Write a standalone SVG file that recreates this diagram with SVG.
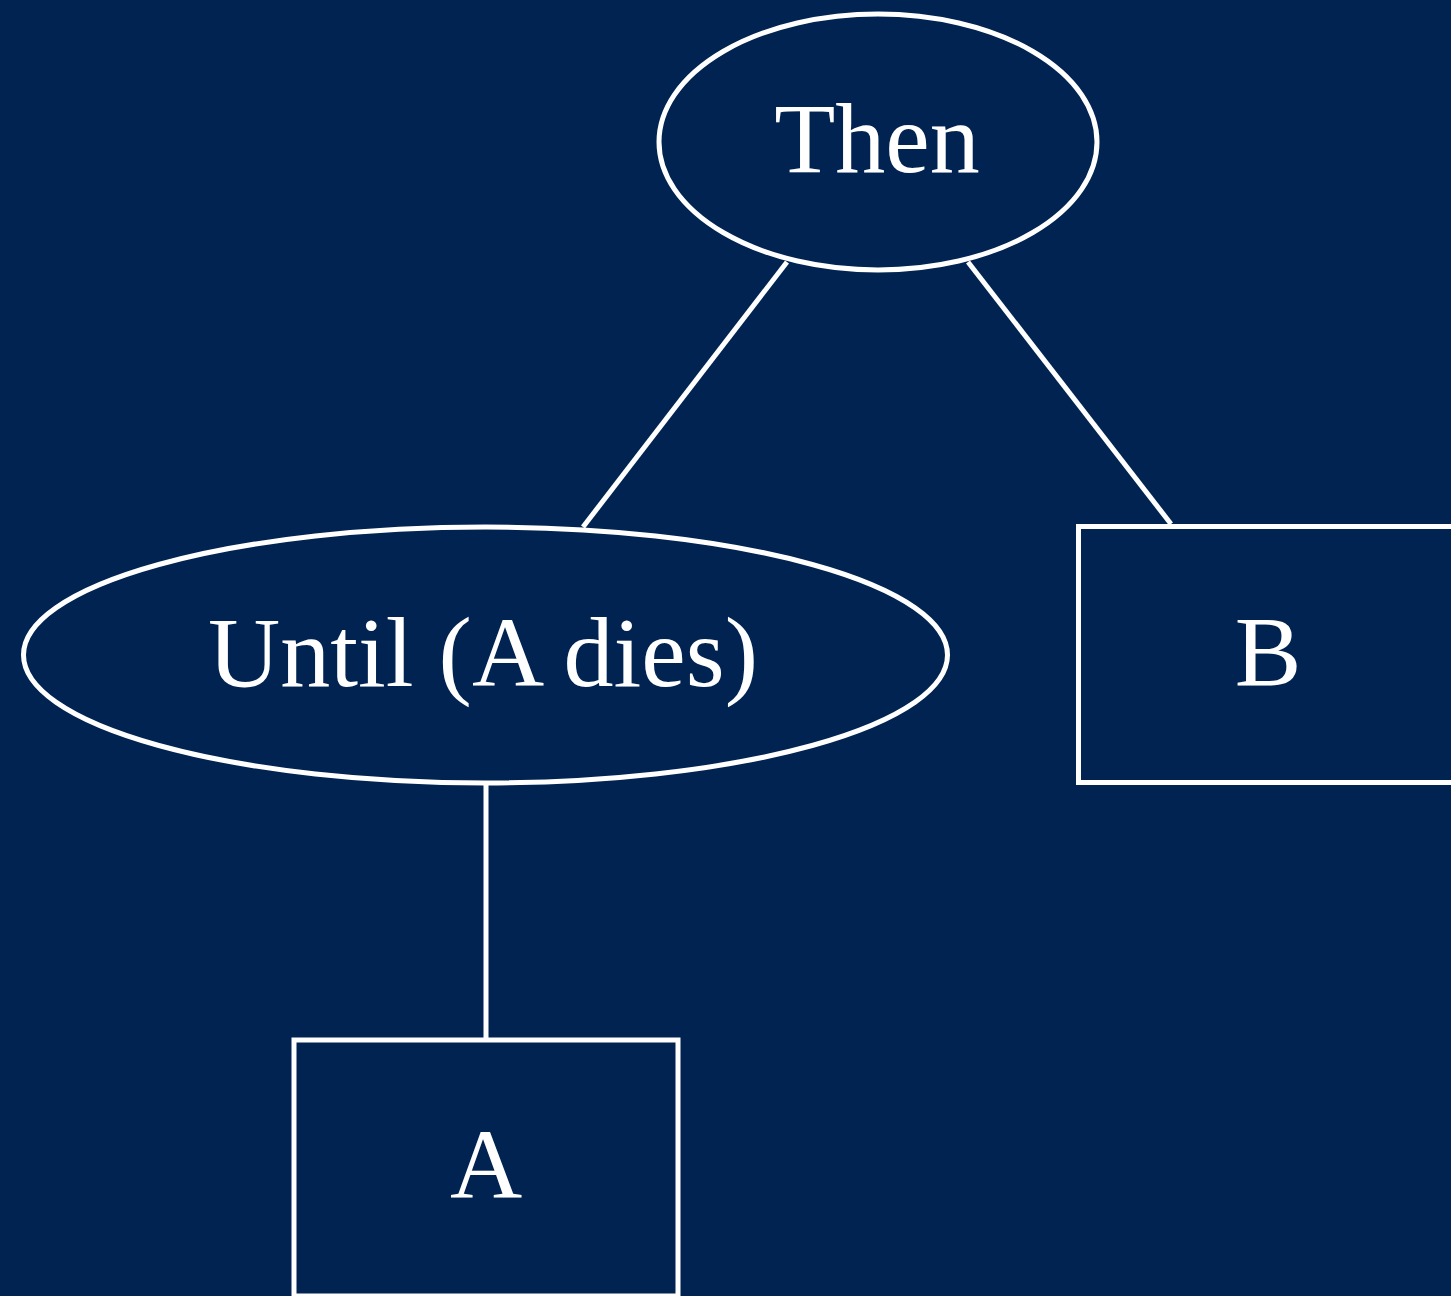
<svg xmlns="http://www.w3.org/2000/svg" width="1451" height="1296" viewBox="0 0 1451 1296">
<style>
.shape{fill:#002352;stroke:#ffffff;stroke-width:5}
.edge{stroke:#ffffff;stroke-width:5;fill:none}
.lbl{fill:#ffffff;font-family:"Liberation Serif","Times New Roman",serif;font-size:100px;text-anchor:middle}
</style>
<rect x="0" y="0" width="1451" height="1296" fill="#002352"/>
<g id="connectors">
<line class="edge" x1="787" y1="262" x2="583" y2="527"/>
<line class="edge" x1="968" y1="262" x2="1171" y2="524"/>
<line class="edge" x1="486" y1="783" x2="486" y2="1040"/>
</g>
<g id="node-then">
<ellipse class="shape" cx="878" cy="142" rx="219" ry="128"/>
<text class="lbl" x="877" y="172">Then</text>
</g>
<g id="node-until">
<ellipse class="shape" cx="485.5" cy="655" rx="462" ry="128"/>
<text class="lbl" x="483" y="686">Until (A dies)</text>
</g>
<g id="node-b">
<rect class="shape" x="1078.5" y="526.5" width="384" height="256"/>
<text class="lbl" x="1268" y="685">B</text>
</g>
<g id="node-a">
<rect class="shape" x="294" y="1040" width="384" height="256"/>
<text class="lbl" x="486" y="1198">A</text>
</g>
</svg>
